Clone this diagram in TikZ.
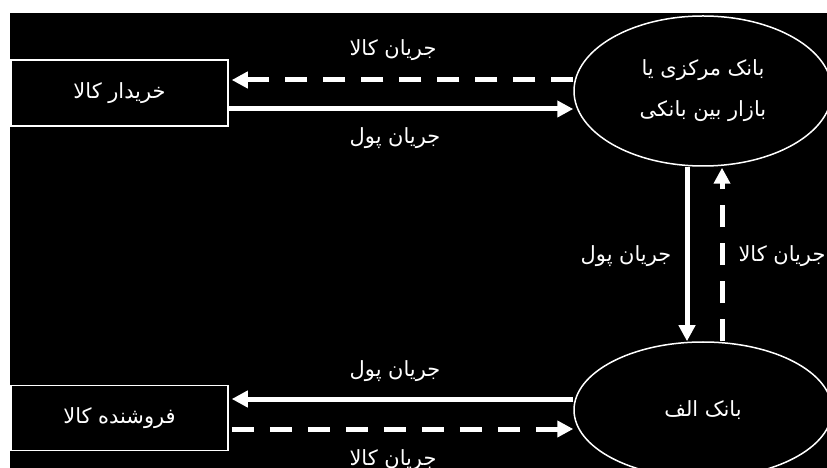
\documentclass[tikz,border=0pt]{standalone}
\usepackage{fontspec}
\TeXXeTstate=1
\newfontfamily\fafont[Script=Arabic]{DejaVu Sans}
\usetikzlibrary{arrows.meta,shapes.geometric}
\tikzset{
  fa/.style={text=white,font=\fafont\fontsize{21}{25}\selectfont,inner sep=0pt},
  party/.style={fa,draw=white,line width=1.5bp,rectangle,minimum width=217bp,minimum height=66bp},
  bank/.style={fa,draw=white,line width=1.5bp,ellipse,minimum width=258bp},
  money/.style={draw=white,line width=5bp,-{Triangle[length=16bp,width=16bp]}},
  goods/.style={money,dash pattern=on 22bp off 16bp},
}
\begin{document}
\begin{tikzpicture}[x=1bp,y=-1bp]
  \useasboundingbox (0,0) rectangle (827,468);
  \clip (0,0) rectangle (827,468);
  \fill[white] (-5,-5) rectangle (835,475);
  \fill[black] (10,13) rectangle (835,475);

  % parties and banks
  \node[party] (buyer) at (119.5,93) {\beginR خریدار کالا\endR};
  \node[party,minimum height=65bp] (seller) at (119.5,418) {\beginR فروشنده کالا\endR};
  \node[bank,minimum height=150bp,align=center] (central) at (703,91)
    {\beginR بانک مرکزی یا\endR\\[16bp]\beginR بازار بین بانکی\endR};
  \node[bank,minimum height=136bp] (bankA) at (703,410) {\beginR بانک الف\endR};

  % buyer <-> central bank
  \coordinate (t1) at ([yshift=11bp]central.west);
  \coordinate (t2) at ([yshift=-18bp]central.west);
  \draw[goods,shorten >=3bp] (t1) -- (t1 -| buyer.east);
  \draw[money] (t2 -| buyer.east) -- (t2);

  % central bank <-> bank A
  \coordinate (v1) at ([xshift=-16bp]central.south);
  \coordinate (v2) at ([xshift=19bp]bankA.north);
  \draw[money] (v1) -- (v1 |- bankA.north);
  \draw[goods,shorten >=1bp] (v2) -- (v2 |- central.south);

  % bank A <-> seller
  \coordinate (b1) at ([yshift=11bp]bankA.west);
  \coordinate (b2) at ([yshift=-19bp]bankA.west);
  \draw[money,shorten >=3bp] (b1) -- (b1 -| seller.east);
  \draw[goods,shorten <=3bp] (b2 -| seller.east) -- (b2);

  % flow labels
  \node[fa] (lg1) at (393,50) {\beginR جریان کالا\endR};
  \node[fa] (lm1) at (395,138) {\beginR جریان پول\endR};
  \node[fa] (lm2) at (395,371) {\beginR جریان پول\endR};
  \node[fa] (lg2) at (393,460) {\beginR جریان کالا\endR};
  \node[fa] (lm3) at (626,256) {\beginR جریان پول\endR};
  \node[fa] (lg3) at (782,256) {\beginR جریان کالا\endR};
\end{tikzpicture}
\end{document}
